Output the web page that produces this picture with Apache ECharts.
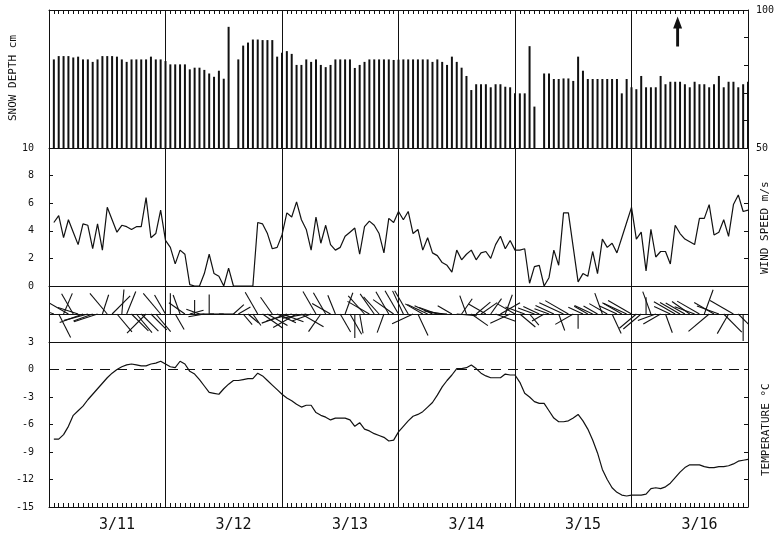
<!DOCTYPE html>
<html>
<head>
<meta charset="utf-8">
<script src="https://cdn.jsdelivr.net/npm/echarts@6/dist/echarts.min.js"></script>
<style>html,body{margin:0;padding:0;background:#fff}#c{width:778px;height:539px}</style>
</head>
<body>
<div id="c"></div>
<script>
// ---- data (hourly, hour 1..144 starting 3/11 00h) ----
const dayLabels = ['3/11','3/12','3/13','3/14','3/15','3/16'];
const dayLabelHours = [14,38,62,86,110,134];
const dayBoundaries = [24,48,72,96,120];
const hourTicks = Array.from({length: 145}, (_, i) => i);  // hourly tick positions 0..144

const snowDepth = [
 82.1,83.3,83.3,83.3,82.8,83.1,82.1,82.1,81.2,82.1,83.3,83.3,83.3,83.1,82.1,81.2,82.1,82.1,82.1,82.1,83.1,82.1,82.1,81.5,
 80.3,80.3,80.3,80.3,78.5,79.1,79.1,78.3,77.0,75.8,78.0,75.1,93.9,null,82.1,87.1,88.2,89.3,89.3,89.1,89.1,89.1,83.1,84.5,
 85.1,84.1,80.1,80.1,82.1,81.2,82.1,80.1,79.3,80.1,82.1,82.1,82.1,82.1,79.0,80.1,81.2,82.1,82.1,82.1,82.1,82.1,81.9,82.0,
 82.1,82.1,82.1,82.1,82.1,82.1,81.2,82.1,81.2,80.1,83.1,81.2,79.1,76.1,71.0,73.1,73.1,73.1,72.0,73.1,73.1,72.2,72.0,69.8,
 69.8,69.8,86.9,65.0,null,77.0,77.0,75.0,75.0,75.2,75.2,74.3,83.1,78.0,75.0,75.0,75.0,75.0,75.0,75.0,75.0,69.8,75.0,72.0,
 71.3,76.1,72.0,72.0,72.0,76.1,73.1,74.0,74.0,74.0,73.1,72.0,74.0,73.1,73.1,72.0,73.1,76.1,72.0,74.0,74.0,72.0,73.1,74.0
];

const windSpeed = [
 4.6,5.1,3.5,4.8,3.9,3.0,4.5,4.4,2.7,4.5,2.6,5.7,4.8,3.9,4.4,4.3,4.1,4.3,4.3,6.4,3.5,3.8,5.5,3.3,
 2.8,1.6,2.6,2.3,0.1,0,0,0.9,2.3,0.9,0.7,0,1.3,0,0,0,0,0,4.6,4.5,3.8,2.7,2.8,3.7,
 5.3,5.0,6.1,4.8,4.1,2.6,5.0,3.1,4.4,3.0,2.6,2.8,3.6,3.9,4.2,2.3,4.3,4.7,4.4,3.8,2.4,4.9,4.6,5.4,
 4.8,5.4,3.8,4.1,2.6,3.5,2.4,2.2,1.7,1.5,1.0,2.6,1.9,2.3,2.6,1.9,2.4,2.5,2.0,3.0,3.6,2.7,3.3,2.6,
 2.6,2.7,0.2,1.4,1.5,0,0.6,2.6,1.5,5.3,5.3,2.8,0.3,0.9,0.7,2.5,0.9,3.4,2.8,3.1,2.4,3.5,4.6,5.7,
 3.4,3.9,1.1,4.1,2.1,2.5,2.5,1.6,4.4,3.8,3.4,3.2,3.0,4.9,4.9,5.9,3.7,3.9,4.8,3.6,5.9,6.6,5.4,5.5
];

// wind direction stick bearing in degrees (0 = up, 90 = right), null = no stick
const windDir = [
 290,153,23,300,330,288,250,255,250,252,18,320,45,140,5,22,135,140,135,225,135,140,320,330,
 0,150,340,305,75,0,290,260,0,270,90,270,null,48,60,140,130,145,330,125,120,325,115,110,
 250,255,240,120,260,250,330,215,330,300,338,150,20,150,180,170,318,300,325,318,200,330,305,330,
 335,330,245,155,300,295,295,290,280,275,300,95,35,340,125,50,55,300,35,110,60,20,245,300,
 130,290,140,290,295,240,290,295,160,295,300,240,180,295,300,295,300,340,300,155,295,300,295,300,
 230,230,0,340,250,240,160,295,300,300,300,305,290,300,20,230,300,290,135,210,300,135,180,135
];

const temperature = [
 -7.6,-7.6,-7.1,-6.2,-5.0,-4.5,-4.0,-3.3,-2.7,-2.1,-1.5,-0.9,-0.4,0.0,0.3,0.5,0.6,0.5,0.4,0.4,0.6,0.7,0.9,0.6,
 0.3,0.2,0.9,0.6,-0.2,-0.5,-1.1,-1.8,-2.5,-2.6,-2.7,-2.1,-1.6,-1.2,-1.2,-1.1,-1.0,-1.0,-0.4,-0.7,-1.2,-1.7,-2.2,-2.7,
 -3.1,-3.4,-3.8,-4.1,-3.9,-3.9,-4.7,-5.0,-5.2,-5.5,-5.3,-5.3,-5.3,-5.5,-6.2,-5.8,-6.5,-6.7,-7.0,-7.2,-7.4,-7.8,-7.7,-6.8,
 -6.2,-5.6,-5.1,-4.9,-4.6,-4.1,-3.6,-2.8,-1.9,-1.2,-0.6,0.1,0.1,0.2,0.5,0.1,-0.4,-0.7,-0.9,-0.9,-0.9,-0.5,-0.6,-0.6,
 -1.4,-2.6,-3.0,-3.5,-3.7,-3.7,-4.5,-5.3,-5.7,-5.7,-5.6,-5.3,-4.9,-5.6,-6.5,-7.7,-9.1,-10.9,-12.0,-12.9,-13.4,-13.7,-13.8,-13.7,
 -13.7,-13.7,-13.6,-13.0,-12.9,-13.0,-12.8,-12.4,-11.8,-11.2,-10.7,-10.4,-10.4,-10.4,-10.6,-10.7,-10.7,-10.6,-10.6,-10.5,-10.3,-10.0,-9.9,-9.8
];

const markerHour = 129.5;   // arrow annotation position
const markerDepth = 92.2;

// ---- build ----
const hours = snowDepth.map((_, i) => i + 1);
const INK = '#111';
const FONT = 'DejaVu Sans Mono';

const chart = echarts.init(document.getElementById('c'), null, {renderer: 'canvas'});

const grids = [
  {left: 49, right: 30, top: 10, height: 138},
  {left: 49, right: 30, top: 148, height: 138},
  {left: 49, right: 30, top: 286, height: 56},
  {left: 49, right: 30, top: 342, height: 165}
];

function xBase(extra) {
  return Object.assign({
    type: 'value', min: 0, max: 144, interval: 24,
    axisLine: {show: true, onZero: false, lineStyle: {color: INK, width: 1}},
    axisTick: {show: false},
    axisLabel: {show: false},
    splitLine: {show: true, lineStyle: {color: INK, width: 1}}
  }, extra);
}
function yBase(extra) {
  return Object.assign({
    type: 'value',
    axisLine: {show: true, onZero: false, lineStyle: {color: INK, width: 1}},
    axisTick: {show: false},
    axisLabel: {show: false},
    splitLine: {show: false}
  }, extra);
}
const tickInside = {show: true, inside: true, length: 4, lineStyle: {color: INK, width: 1}};
const hourTick = {show: true, inside: true, length: 4, customValues: hourTicks, lineStyle: {color: INK, width: 1}};
const labelStyle = {color: INK, fontFamily: FONT, fontSize: 10};
const dayLineItems = dayBoundaries.map(v => ({xAxis: v, lineStyle: {type: 'solid', width: 1, color: INK}}));

const option = {
  animation: false,
  backgroundColor: '#fff',
  grid: grids,
  xAxis: [
    // 0: snow panel top border with hourly ticks
    xBase({gridIndex: 0, position: 'top', axisTick: hourTick, splitLine: {show: false}}),
    // 1: snow panel baseline
    xBase({gridIndex: 0, position: 'bottom', splitLine: {show: false}}),
    // 2: wind speed panel
    xBase({gridIndex: 1, position: 'bottom'}),
    // 3: wind direction band
    xBase({gridIndex: 2, position: 'bottom'}),
    // 4: temperature bottom with hourly ticks, date labels
    xBase({gridIndex: 3, position: 'bottom', axisTick: hourTick, splitLine: {show: false},
      axisLabel: {show: true, customValues: dayLabelHours, margin: 11,
        color: INK, fontFamily: FONT, fontSize: 15,
        formatter: v => dayLabels[dayLabelHours.indexOf(v)] || ''}})
  ],
  yAxis: [
    yBase({gridIndex: 0, position: 'left', min: 50, max: 100}),
    yBase({gridIndex: 0, position: 'right', min: 50, max: 100, interval: 10, axisTick: tickInside,
      axisLabel: Object.assign({show: true, margin: 8, formatter: v => (v === 50 || v === 100) ? String(v) : ''}, labelStyle)}),
    yBase({gridIndex: 1, position: 'left', min: 0, max: 10, interval: 2, axisTick: tickInside,
      axisLabel: Object.assign({show: true, margin: 15}, labelStyle)}),
    yBase({gridIndex: 1, position: 'right', min: 0, max: 10, interval: 2, axisTick: tickInside}),
    yBase({gridIndex: 2, position: 'left', min: -1, max: 1, interval: 1,
      splitLine: {show: true, lineStyle: {color: INK, width: 1}}}),
    yBase({gridIndex: 2, position: 'right', min: -1, max: 1, interval: 1}),
    yBase({gridIndex: 3, position: 'left', min: -15, max: 3, interval: 3, axisTick: tickInside,
      axisLabel: Object.assign({show: true, margin: 15}, labelStyle)}),
    yBase({gridIndex: 3, position: 'right', min: -15, max: 3, interval: 3, axisTick: tickInside})
  ],
  series: [
    {
      type: 'bar', xAxisIndex: 0, yAxisIndex: 1,
      data: hours.map((h, i) => [h, snowDepth[i]]),
      barWidth: 2, itemStyle: {color: INK},
      markPoint: {
        silent: true,
        symbol: 'path://M5,0 L10,12 L6.6,12 L6.6,30 L3.4,30 L3.4,12 L0,12 Z',
        symbolSize: [9, 30],
        label: {show: false},
        itemStyle: {color: INK},
        data: [{coord: [markerHour, markerDepth]}]
      },
      markLine: {
        silent: true, symbol: 'none', label: {show: false},
        lineStyle: {type: 'solid', color: INK, width: 1},
        data: dayLineItems
      }
    },
    {
      type: 'line', xAxisIndex: 2, yAxisIndex: 2,
      data: hours.map((h, i) => [h, windSpeed[i]]),
      showSymbol: false, symbol: 'none',
      lineStyle: {color: INK, width: 1.2}
    },
    {
      type: 'custom', xAxisIndex: 3, yAxisIndex: 4,
      data: hours.map((h, i) => [h, 0, windDir[i], windSpeed[i]]).filter(d => d[2] !== null),
      clip: true,
      renderItem: function (params, api) {
        const dir = api.value(2);
        const spd = api.value(3);
        const p = api.coord([api.value(0), api.value(1)]);
        const L = Math.min(27, 14 + spd * 2.4);
        const r = dir * Math.PI / 180;
        return {
          type: 'line',
          shape: {x1: p[0], y1: p[1], x2: p[0] + L * Math.sin(r), y2: p[1] - L * Math.cos(r)},
          style: {stroke: INK, lineWidth: 1.1}
        };
      }
    },
    {
      type: 'line', xAxisIndex: 4, yAxisIndex: 6,
      data: hours.map((h, i) => [h, temperature[i]]),
      showSymbol: false, symbol: 'none',
      lineStyle: {color: INK, width: 1.2},
      markLine: {
        silent: true, symbol: 'none', label: {show: false},
        lineStyle: {type: [10, 7], color: INK, width: 1.2},
        data: [{yAxis: 0}].concat(dayLineItems)
      }
    }
  ],
  graphic: [
    {type: 'text', x: 13, y: 121, rotation: Math.PI / 2,
     style: {text: 'SNOW DEPTH cm', fill: INK, font: '11px "DejaVu Sans Mono"', textAlign: 'left', textVerticalAlign: 'middle'}},
    {type: 'text', x: 765, y: 274, rotation: Math.PI / 2,
     style: {text: 'WIND SPEED m/s', fill: INK, font: '11px "DejaVu Sans Mono"', textAlign: 'left', textVerticalAlign: 'middle'}},
    {type: 'text', x: 766, y: 476, rotation: Math.PI / 2,
     style: {text: 'TEMPERATURE °C', fill: INK, font: '11px "DejaVu Sans Mono"', textAlign: 'left', textVerticalAlign: 'middle'}}
  ]
};
chart.setOption(option);
</script>
</body>
</html>
